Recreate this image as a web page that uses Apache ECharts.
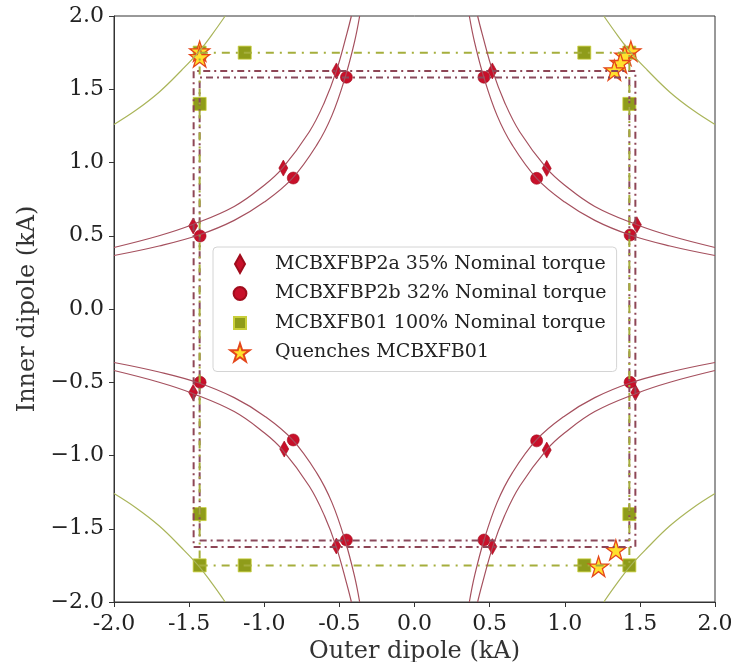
<!DOCTYPE html>
<html>
<head>
<meta charset="utf-8">
<script src="https://cdn.jsdelivr.net/npm/echarts@6/dist/echarts.min.js"></script>
<style>
  html, body { margin: 0; padding: 0; background: #fff; }
  #main { width: 744px; height: 662px; }
</style>
</head>
<body>
<div id="main"></div>
<script>
// limit curves, read in the first quadrant [outer, inner] (kA); the plot is symmetric
const curve35 = [[0.42, 2.0], [0.45, 1.88], [0.52, 1.625], [0.6, 1.41], [0.7, 1.21], [0.88, 0.96],
  [1.0, 0.845], [1.2, 0.70], [1.48, 0.575], [1.7, 0.50], [2.0, 0.42]];
const curve32 = [[0.365, 2.0], [0.40, 1.82], [0.462, 1.58], [0.55, 1.32], [0.65, 1.12], [0.813, 0.892],
  [1.0, 0.73], [1.2, 0.605], [1.435, 0.505], [1.7, 0.43], [2.0, 0.365]];
const curve100 = [[1.26, 2.0], [1.35, 1.87], [1.44, 1.75], [1.55, 1.63], [1.7, 1.48], [1.85, 1.36], [2.0, 1.26]];

// dash-dot test envelopes, half width / half height (kA)
const box35 = [1.47, 1.625];
const box32 = [1.43, 1.58];
const box100 = [1.43, 1.75];

// measured points
const p2a = [[-0.52, 1.625], [-0.873, 0.962], [-1.473, 0.567],
  [0.518, 1.625], [0.88, 0.96], [1.48, 0.575],
  [-0.52, -1.618], [-0.867, -0.956], [-1.473, -0.57],
  [0.518, -1.622], [0.88, -0.963], [1.47, -0.57]];
const p2b = [[-0.453, 1.582], [-0.807, 0.894], [-1.427, 0.498],
  [0.462, 1.582], [0.813, 0.892], [1.435, 0.505],
  [-0.453, -1.577], [-0.807, -0.894], [-1.427, -0.50],
  [0.462, -1.577], [0.813, -0.90], [1.435, -0.50]];
const b01 = [[-1.43, 1.75], [-1.13, 1.75], [-1.43, 1.40], [1.13, 1.75], [1.43, 1.75], [1.43, 1.40],
  [-1.43, -1.75], [-1.13, -1.75], [-1.43, -1.40], [1.13, -1.75], [1.43, -1.75], [1.43, -1.40]];
const quenches = [[-1.43, 1.76], [-1.43, 1.72], [1.44, 1.76], [1.40, 1.73], [1.37, 1.68], [1.33, 1.63],
  [1.34, -1.645], [1.225, -1.757]];

const names = ['MCBXFBP2a 35% Nominal torque', 'MCBXFBP2b 32% Nominal torque',
  'MCBXFB01 100% Nominal torque', 'Quenches MCBXFB01'];

const STAR = 'path://M50 0L61.23 34.55L97.55 34.55L68.17 55.9L79.39 90.45L50 69.1L20.61 90.45L31.83 55.9L2.45 34.55L38.77 34.55Z';
// legend icons drawn in a 48x18 frame, shape centred at x=18 so the text sits a bit further right
const ICON_DIAMOND = 'path://M0 0M48 18M18 0L23 9L18 18L13 9Z';
const ICON_CIRCLE = 'path://M0 0M48 18M18 2.6A6.4 6.4 0 1 1 18 15.4A6.4 6.4 0 1 1 18 2.6Z';
const ICON_SQUARE = 'path://M0 0M48 18M12 3H24V15H12Z';
const ICON_STAR = 'path://M0 0M48 18M18 0L20.25 6.87L27.51 6.87L21.63 11.14L23.88 18L18 13.78L12.12 18L14.37 11.14L8.49 6.87L15.75 6.87Z';
const FONT = 'DejaVu Serif';

function mirror(pts, sx, sy) {
  return pts.map(p => [p[0] * sx, p[1] * sy]);
}
function box(hw) {
  let w = hw[0], h = hw[1];
  return [[-w, -h], [w, -h], [w, h], [-w, h], [-w, -h]];
}

let series = [];
// envelopes
[[box35, '#8e4656', [7, 4, 2, 4]], [box32, '#8a4a5c', [7, 4, 2, 4]], [box100, '#a5ae3c', [8, 6, 2, 6]]].forEach(b => {
  series.push({
    type: 'line', data: box(b[0]), symbol: 'none', silent: true,
    lineStyle: { color: b[1], width: 2, type: b[2] }
  });
});
// torque limit curves in the four quadrants
[[1, 1], [-1, 1], [1, -1], [-1, -1]].forEach(s => {
  [[curve35, '#a5505e', 1.2], [curve32, '#a5505e', 1.2], [curve100, '#aab55a', 1.2]].forEach(c => {
    series.push({
      type: 'line', data: mirror(c[0], s[0], s[1]), symbol: 'none', smooth: 0.4, silent: true,
      lineStyle: { color: c[1], width: c[2] }
    });
  });
});
series.push({
  name: names[0], type: 'scatter', data: p2a, symbol: 'diamond', symbolSize: [9, 16],
  itemStyle: { color: '#c8102a', borderColor: '#a00c1c', borderWidth: 0.6, opacity: 1 }
});
series.push({
  name: names[1], type: 'scatter', data: p2b, symbol: 'circle', symbolSize: 12,
  itemStyle: { color: '#c8102a', borderColor: '#a00c1c', borderWidth: 0.6, opacity: 1 }
});
series.push({
  name: names[2], type: 'scatter', data: b01, symbol: 'rect', symbolSize: 13,
  itemStyle: { color: '#8f9c1a', borderColor: '#c9cf3a', borderWidth: 0.8, opacity: 1 }
});
series.push({
  name: names[3], type: 'scatter', data: quenches, symbol: STAR, symbolSize: 20,
  itemStyle: { color: '#ffe12e', borderColor: '#e4461a', borderWidth: 1.3, opacity: 1 }
});

let myChart = echarts.init(document.getElementById('main'));
myChart.setOption({
  backgroundColor: '#fff',
  animation: false,
  grid: {
    left: 114, right: 29, top: 16, bottom: 60,
    show: true, borderColor: '#333', borderWidth: 1,
    outerBoundsMode: 'none'
  },
  legend: {
    left: 213, top: 247, orient: 'vertical',
    padding: [7, 10, 9, 8],
    itemGap: 9.5, itemWidth: 48, itemHeight: 18,
    backgroundColor: 'rgba(255,255,255,0.85)',
    borderColor: '#d4d4d4', borderWidth: 1, borderRadius: 4,
    textStyle: { fontFamily: FONT, fontSize: 19, color: '#222', lineHeight: 20 },
    data: [
      { name: names[0], icon: ICON_DIAMOND },
      { name: names[1], icon: ICON_CIRCLE },
      { name: names[2], icon: ICON_SQUARE },
      { name: names[3], icon: ICON_STAR }
    ],
    selectedMode: false
  },
  xAxis: {
    type: 'value', min: -2, max: 2, interval: 0.5,
    name: 'Outer dipole (kA)', nameLocation: 'middle', nameGap: 35,
    nameTextStyle: { fontFamily: FONT, fontSize: 24, color: '#333' },
    axisLine: { show: true, onZero: false, lineStyle: { color: '#333' } },
    axisTick: { show: true, length: 5, lineStyle: { color: '#333' } },
    axisLabel: {
      margin: 11, fontFamily: FONT, fontSize: 22, color: '#222',
      formatter: v => v.toFixed(1)
    },
    splitLine: { show: false }
  },
  yAxis: {
    type: 'value', min: -2, max: 2, interval: 0.5,
    name: 'Inner dipole (kA)', nameLocation: 'middle', nameGap: 68,
    nameTextStyle: { fontFamily: FONT, fontSize: 24, color: '#333' },
    axisLine: { show: true, onZero: false, lineStyle: { color: '#333' } },
    axisTick: { show: true, length: 5, lineStyle: { color: '#333' } },
    axisLabel: {
      margin: 10, fontFamily: FONT, fontSize: 22, color: '#222',
      formatter: v => v.toFixed(1).replace('-', '\u2212')
    },
    splitLine: { show: false }
  },
  series: series
});
</script>
</body>
</html>
